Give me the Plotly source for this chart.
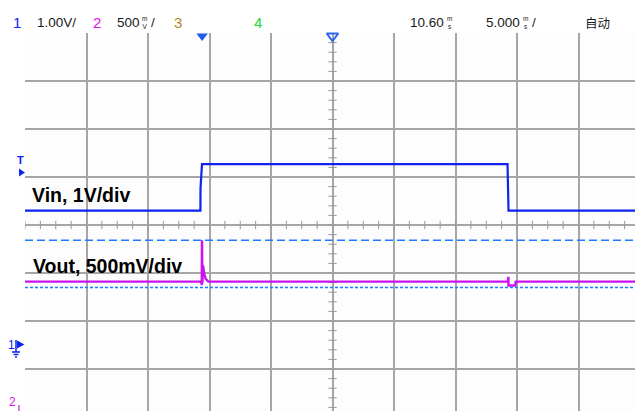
import numpy as np
import plotly.graph_objects as go

# ---- data (time in ms, voltages in V) ----
vin_t = [-14.4, -0.14, -0.13, -0.01, 24.83, 24.84, 24.91, 35.3]
vin_v = [2.80, 2.80, 3.27, 3.77, 3.77, 3.48, 2.80, 2.80]

vout_t = [-14.4, -0.07, -0.03, -0.01, 0.02, 0.07, 0.17, 0.29, 0.50,
          24.87, 24.90, 24.91, 24.95, 25.45, 25.50, 35.3]
vout_v = [1.26, 1.26, 1.225, 1.69, 1.245, 1.43, 1.34, 1.29, 1.26,
          1.26, 1.31, 1.21, 1.22, 1.22, 1.26, 1.26]

cursor_v = [1.69, 1.20]           # ch2 cursor levels (V)
ch1_scale, ch1_ground = 1.0, -2.5  # V/div, ground position (div)
ch2_scale, ch2_ground = 0.5, -3.7
time_per_div, delay = 5.0, 10.60   # ms
trigger_t = 0.0

header = {"ch1": "1.00V/", "ch2": "500", "delay": "10.60", "tdiv": "5.000", "mode": "自动"}

# ---- geometry ----
W, H = 635, 411
L, T = 25, 33
PW, PH = W - L, H - T
PX_DIV_X, PX_DIV_Y = 61.5, 48.0
x0 = delay - 5 * time_per_div
x1 = x0 + PW / PX_DIV_X * time_per_div
y1 = 4.0
y0 = y1 - PH / PX_DIV_Y


def px(xp, yp):
    return (xp - L) / PW, (H - yp) / PH


def to_div(v, scale, ground):
    return [a / scale + ground for a in v]


BLUE = "#0F22EE"
MAG = "#CC11EE"
CUR = "#1E7BFF"
GRID = "#A6A6A6"

fig = go.Figure()

# graticule minor ticks along the centre lines
xt = np.arange(x0, x1, time_per_div / 4)
fig.add_trace(go.Scatter(x=xt, y=[0] * len(xt), mode="markers",
                         marker=dict(symbol="line-ns", size=6, line=dict(width=1, color="#999999")),
                         hoverinfo="skip", showlegend=False))
yt = np.arange(-3.8, 4.0, 0.2)
fig.add_trace(go.Scatter(x=[delay] * len(yt), y=yt, mode="markers",
                         marker=dict(symbol="line-ew", size=6, line=dict(width=1, color="#999999")),
                         hoverinfo="skip", showlegend=False))

# cursors
fig.add_hline(y=to_div([cursor_v[0]], ch2_scale, ch2_ground)[0],
              line=dict(color=CUR, width=1.5, dash="8px,4px"))
fig.add_hline(y=to_div([cursor_v[1]], ch2_scale, ch2_ground)[0],
              line=dict(color=CUR, width=1.5, dash="3px,2px"))

# traces
fig.add_trace(go.Scatter(x=vin_t, y=to_div(vin_v, ch1_scale, ch1_ground), mode="lines",
                         line=dict(color=BLUE, width=2.2), showlegend=False))
fig.add_trace(go.Scatter(x=vout_t, y=to_div(vout_v, ch2_scale, ch2_ground), mode="lines",
                         line=dict(color=MAG, width=2.4), showlegend=False))

# trigger / delay markers at top
ytop = y1 - 3.0 / PX_DIV_Y
fig.add_trace(go.Scatter(x=[trigger_t], y=[ytop], mode="markers", cliponaxis=False,
                         marker=dict(symbol="triangle-down", size=10, color="#1E5BEE"),
                         showlegend=False))
fig.add_trace(go.Scatter(x=[delay], y=[ytop], mode="markers", cliponaxis=False,
                         marker=dict(symbol="triangle-down-open", size=10, color="#2A66F0",
                                     line=dict(width=2, color="#2A66F0")),
                         showlegend=False))

shapes = []
# borders
a, b = px(25, 33); c, d = px(25, H)
shapes.append(dict(type="line", xref="paper", yref="paper", x0=a, y0=b, x1=c, y1=d,
                   line=dict(color="#111111", width=2)))
a, b = px(9, 33); c, d = px(W, 33)
shapes.append(dict(type="line", xref="paper", yref="paper", x0=a, y0=b, x1=c, y1=d,
                   line=dict(color="#111111", width=1.5)))


def path(pts):
    s = ""
    for i, (xx, yy) in enumerate(pts):
        p = px(xx, yy)
        s += ("M" if i == 0 else "L") + f"{p[0]:.5f},{p[1]:.5f}"
    return s + "Z"


# trigger level marker "T"
shapes.append(dict(type="path", xref="paper", yref="paper",
                   path=path([(19, 168.5), (25, 172.5), (19, 176.5)]),
                   fillcolor=BLUE, line=dict(width=0)))
# ch1 ground marker
for (xa, ya, xb, yb) in [(16, 340, 16, 352), (12, 352, 20, 352), (13.5, 354.5, 18.5, 354.5), (15, 357, 17, 357)]:
    p1 = px(xa, ya); p2 = px(xb, yb)
    shapes.append(dict(type="line", xref="paper", yref="paper", x0=p1[0], y0=p1[1], x1=p2[0], y1=p2[1],
                       line=dict(color=BLUE, width=1.5)))
shapes.append(dict(type="path", xref="paper", yref="paper",
                   path=path([(17, 340.5), (24.5, 344.5), (17, 348.5)]),
                   fillcolor=BLUE, line=dict(width=0)))
p1 = px(19, 405); p2 = px(19, 411)
shapes.append(dict(type="line", xref="paper", yref="paper", x0=p1[0], y0=p1[1], x1=p2[0], y1=p2[1],
                   line=dict(color=MAG, width=1.2)))

ann = []


def text(xp, yp, s, color="#1A1A1A", size=13.5, anchor="left", family="Liberation Sans", bold=False):
    p = px(xp, yp)
    ann.append(dict(x=p[0], y=p[1], xref="paper", yref="paper", text=("<b>%s</b>" % s) if bold else s,
                    showarrow=False, xanchor=anchor, yanchor="middle",
                    font=dict(size=size, color=color, family=family)))


HY = 22.5
text(16.5, HY, "1", BLUE, size=15, anchor="center")
text(35, HY, header["ch1"])
text(96.5, HY, "2", "#E010E8", size=15, anchor="center")
text(142, HY, header["ch2"], anchor="right")
text(145, HY, "m<br>V", size=6.5, anchor="center")
text(148.5, HY, "/")
text(178, HY, "3", "#B8861E", size=15, anchor="center")
text(258, HY, "4", "#22D83A", size=15, anchor="center")
text(446, HY, header["delay"], anchor="right")
text(449, HY, "m<br>s", size=6.5, anchor="center")
text(522, HY, header["tdiv"], anchor="right")
text(525.5, HY, "m<br>s", size=6.5, anchor="center")
text(529.5, HY, "/")
text(583, HY, header["mode"], size=12.5, family="Noto Sans CJK SC")
text(20.5, 160, "T", BLUE, size=11, anchor="center", bold=True)
text(11.5, 345, "1", BLUE, size=12, anchor="center")
text(12.5, 401.5, "2", "#E010E8", size=12, anchor="center")

text(30, 195, "Vin, 1V/div", "#000000", size=19.5, bold=True)
text(31, 266, "Vout, 500mV/div", "#000000", size=19.5, bold=True)

fig.update_layout(
    width=W, height=H,
    margin=dict(l=L, r=0, t=T, b=0, pad=0),
    paper_bgcolor="#FFFFFF", plot_bgcolor="#FDFDFD",
    shapes=shapes, annotations=ann,
    xaxis=dict(range=[x0, x1], tick0=x0, dtick=time_per_div, showgrid=True, gridcolor=GRID,
               gridwidth=1.5, showticklabels=False, ticks="", zeroline=False, showline=False,
               fixedrange=True),
    yaxis=dict(range=[y0, y1], tick0=0, dtick=1, showgrid=True, gridcolor=GRID,
               gridwidth=1.5, showticklabels=False, ticks="", zeroline=False, showline=False,
               fixedrange=True),
)

fig.write_html("out.html", config={"displayModeBar": False},
               post_script="document.body.style.margin='0';document.body.style.padding='0';"
                           "document.body.style.overflow='hidden';")
